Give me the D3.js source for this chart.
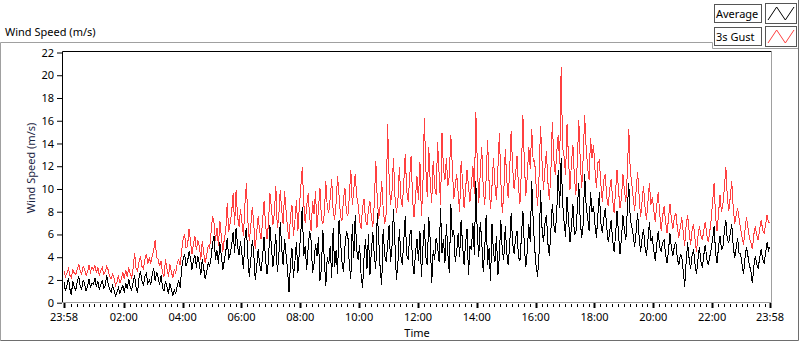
<!DOCTYPE html>
<html lang="en">
<head>
<meta charset="UTF-8">
<title>Wind Speed</title>
<script src="https://d3js.org/d3.v7.min.js"></script>
<style>
    body { margin: 0; background: #fff; }
    svg { display: block; font-family: "Noto Sans", "Liberation Sans", Arial, sans-serif; }
</style>
</head>
<body>
<svg id="chart"></svg>
<script>
// samples every 3 minutes starting 23:58
const startTime = new Date(2020, 0, 1, 23, 58);
const endTime = new Date(2020, 0, 2, 23, 58);
const stepMinutes = 3;

const average = [
    1.8,1.0,1.5,2.2,1.2,0.7,1.9,1.4,1.1,1.8,2.3,1.5,1.2,2.0,1.7,1.0,1.4,2.1,1.3,1.7,
    1.6,2.2,1.4,1.9,1.1,1.6,2.0,1.3,1.5,2.4,1.7,1.2,0.9,1.5,1.1,0.6,0.9,1.3,0.8,1.2,
    1.5,0.9,1.7,1.2,2.1,1.4,1.1,1.8,2.4,1.3,0.9,2.2,2.8,1.9,1.5,2.3,2.6,1.7,2.0,1.6,
    2.5,3.0,1.9,2.7,2.2,1.6,2.4,1.3,1.0,1.9,1.4,0.8,1.7,1.2,0.6,1.1,0.8,1.5,1.9,1.3,
    3.0,3.8,4.3,3.2,3.6,4.5,3.9,2.9,3.7,4.2,3.1,4.1,3.4,2.4,3.8,3.0,2.1,2.7,3.5,3.2,
    4.0,5.2,5.9,3.8,4.6,3.4,5.3,4.1,2.9,3.7,4.5,5.7,3.8,4.3,5.1,6.2,4.4,6.6,5.0,4.2,
    5.4,4.2,3.0,5.6,6.6,4.0,2.3,3.8,5.5,4.4,2.0,3.1,4.7,3.4,2.8,4.0,5.8,3.9,2.5,3.6,
    6.8,5.0,3.1,4.4,6.0,2.7,3.9,7.1,4.8,3.3,5.6,4.2,2.9,0.9,3.5,4.8,2.2,3.6,5.3,2.6,
    4.4,6.2,8.4,4.1,5.0,2.9,4.8,6.3,5.5,2.6,3.4,5.2,4.1,5.8,1.9,3.0,6.4,3.7,1.5,4.0,
    3.4,5.0,2.2,6.6,3.1,4.6,2.5,7.3,5.4,3.6,2.7,4.9,6.2,5.9,3.3,2.1,6.9,3.9,7.7,4.6,
    3.8,5.1,2.4,1.3,4.0,5.6,3.0,6.0,2.4,4.6,6.2,4.1,3.0,7.9,5.5,2.9,1.6,6.5,4.2,3.6,
    5.0,6.8,3.6,4.9,8.2,5.2,2.0,3.4,6.5,4.1,3.3,5.4,7.6,4.2,3.8,5.9,6.4,3.5,2.5,4.4,
    5.6,3.7,6.3,2.3,4.8,6.9,4.0,3.3,7.5,5.5,1.7,4.6,3.8,5.7,4.9,3.6,8.3,4.4,5.6,3.5,
    6.9,4.3,2.6,8.7,5.8,6.4,3.6,4.5,6.1,4.0,7.3,5.0,3.3,5.2,6.5,2.4,5.0,4.6,7.0,4.2,
    10.7,6.0,4.0,7.1,5.5,2.7,4.6,7.7,3.3,4.8,1.9,6.9,4.4,3.6,5.9,2.4,4.1,7.3,4.5,3.8,
    6.7,4.4,3.3,5.0,7.9,5.2,4.3,5.6,6.3,4.0,3.7,5.8,8.1,4.9,3.1,4.6,6.9,5.3,10.7,7.2,
    4.8,3.2,2.3,4.4,9.9,6.6,5.3,7.0,7.7,5.2,4.1,6.3,8.7,6.9,6.1,7.8,11.7,8.3,12.7,8.8,
    7.1,5.8,9.3,7.4,5.3,6.6,8.7,6.0,6.1,8.2,10.5,7.2,5.7,6.9,11.3,8.5,7.5,6.3,9.7,8.0,
    8.5,6.9,5.7,7.8,9.7,7.0,6.1,7.4,8.3,6.6,5.3,6.2,7.3,5.5,4.5,5.9,8.1,6.0,4.3,5.6,
    7.7,6.4,5.5,8.2,10.5,7.3,6.7,5.9,4.9,6.3,7.9,5.8,4.5,5.6,6.5,4.9,4.1,5.5,7.1,5.4,
    5.7,4.6,3.7,5.1,6.3,4.9,4.5,5.3,5.5,4.2,3.5,4.6,6.1,4.8,4.1,5.0,5.3,3.9,3.3,4.2,
    4.1,2.8,1.4,3.6,5.3,3.9,3.0,4.1,4.7,3.4,2.5,3.8,4.9,3.6,3.1,4.2,5.1,3.9,3.3,4.0,
    4.7,5.6,6.7,4.4,3.5,4.9,5.9,4.7,4.9,6.3,7.3,5.5,5.3,6.1,6.9,5.0,3.9,4.8,5.7,4.3,
    4.3,3.4,2.5,3.9,4.9,4.1,3.3,2.8,1.7,3.2,4.1,3.4,3.0,4.0,4.7,3.8,3.5,4.4,5.3,4.6,4.9
];

const gust = [
    2.8,2.3,2.6,3.0,2.4,2.2,2.9,2.6,2.5,2.9,3.4,2.8,2.5,3.2,3.0,2.4,2.7,3.3,2.7,3.1,
    2.9,3.3,2.6,3.1,2.4,2.8,3.1,2.5,2.7,3.2,2.9,2.3,2.1,2.5,2.2,1.5,1.8,2.4,1.7,2.1,
    2.7,2.1,2.9,2.3,3.1,2.5,2.2,3.0,4.4,3.0,2.8,3.6,4.1,3.2,3.0,3.8,4.3,3.4,3.9,3.5,
    4.1,4.6,5.5,4.0,3.8,3.2,3.7,2.6,2.3,3.8,3.0,2.3,3.4,2.7,2.2,2.9,2.6,3.5,3.8,3.3,
    4.6,5.6,6.0,4.8,5.0,6.5,5.4,4.3,5.1,5.9,4.6,5.5,5.0,3.8,5.4,4.4,3.5,4.2,5.0,4.8,
    6.2,7.6,7.0,5.4,6.6,5.0,7.2,5.8,4.5,5.6,6.4,8.8,6.2,7.0,8.0,9.6,6.8,9.9,7.6,6.7,
    8.2,7.0,5.9,8.6,10.5,7.2,5.4,6.8,8.4,7.0,4.7,6.2,7.6,6.3,5.6,7.2,8.9,7.0,5.6,6.9,
    9.6,8.4,6.8,7.8,10.3,6.6,7.5,9.9,8.2,6.9,9.8,8.0,6.5,5.6,7.6,8.6,5.9,7.2,9.0,6.3,
    8.4,10.2,11.9,8.8,7.0,8.5,9.6,7.6,6.3,8.9,7.8,9.8,6.6,8.2,10.1,7.4,6.9,7.8,10.7,8.4,
    7.9,9.2,10.9,8.0,7.3,8.8,11.1,9.4,7.6,7.2,9.1,10.1,7.9,7.6,9.3,11.7,8.6,9.9,11.3,9.4,
    8.6,7.2,6.5,8.4,9.1,7.3,6.8,8.2,8.9,7.5,6.7,8.8,12.5,9.0,7.4,8.6,10.7,8.3,6.9,7.8,
    15.7,11.2,8.6,9.8,12.7,9.4,7.9,8.9,11.9,9.2,8.4,10.5,13.1,9.8,8.9,11.0,12.9,9.1,7.5,9.3,
    11.1,9.0,12.4,7.6,10.2,16.2,11.8,9.3,13.7,10.6,8.8,12.5,10.2,9.5,14.1,11.4,8.6,14.9,11.8,10.8,
    12.7,10.3,11.2,14.7,12.0,9.1,10.3,11.3,9.6,8.0,12.5,10.6,8.3,9.9,11.7,10.2,8.9,10.4,12.0,9.6,
    16.8,12.3,8.8,11.4,13.7,10.2,8.6,10.9,14.3,10.6,8.2,10.3,12.7,10.4,9.0,11.8,14.9,10.7,7.9,9.6,
    13.5,10.9,9.2,11.6,15.1,12.0,10.0,11.2,12.9,10.2,8.7,11.7,16.5,12.3,9.4,11.1,13.7,11.8,15.3,12.4,
    12.5,10.3,8.5,11.2,15.5,12.4,9.9,11.8,13.3,10.6,9.0,11.4,15.9,12.7,11.2,13.2,14.7,12.2,20.7,13.6,
    12.9,11.2,15.7,12.8,9.9,12.3,13.9,11.1,9.5,12.4,16.1,12.5,10.1,12.8,16.5,13.6,11.9,10.8,14.5,12.7,
    13.9,11.7,10.1,12.3,12.5,10.4,8.9,10.8,11.3,9.3,8.5,10.0,10.9,9.1,7.9,9.8,11.7,9.9,8.3,9.2,
    11.3,9.9,8.9,11.4,15.3,11.6,10.5,9.2,8.1,9.9,11.5,9.4,7.5,8.9,10.3,8.4,7.3,8.8,10.5,8.6,
    9.3,8.1,7.1,8.6,9.7,7.9,6.3,7.6,8.5,7.1,6.1,7.4,8.7,7.3,6.5,7.5,7.9,6.6,5.7,6.6,
    7.5,6.2,5.0,6.8,7.7,6.3,5.1,6.3,6.9,5.6,4.5,5.8,6.7,5.9,5.5,6.4,7.1,6.0,5.3,6.2,
    7.3,8.9,10.5,7.6,6.3,7.8,9.5,8.0,8.7,10.1,11.9,9.2,8.1,9.3,10.7,8.4,6.9,7.7,8.3,7.4,
    6.5,5.8,5.1,6.4,7.5,6.6,5.7,5.3,4.7,6.0,6.7,5.9,5.5,6.5,7.3,6.4,6.1,6.9,7.7,7.1,7.0
];

const yTicks = [0, 2, 4, 6, 8, 10, 12, 14, 16, 18, 20, 22];
const xTickLabels = ["23:58", "02:00", "04:00", "06:00", "08:00", "10:00", "12:00",
                     "14:00", "16:00", "18:00", "20:00", "22:00", "23:58"];
const legendItems = [
    { name: "Average", color: "#000000", data: average },
    { name: "3s Gust", color: "#ff4040", data: gust }
];

const width = 800, height = 342;
const plot = { left: 62.5, right: 771.5, top: 51.5, bottom: 302.5 };

const svg = d3.select("#chart").attr("width", width).attr("height", height);

const x = d3.scaleTime().domain([startTime, endTime]).range([64, 770]);
const y = d3.scaleLinear().domain([0, 22]).range([302.7, 52.5]);

// outer frame
svg.append("path")
    .attr("d", "M0.5,340.5 V42.5 H712.5")
    .attr("fill", "none").attr("stroke", "#a0a0a0");
svg.append("path")
    .attr("d", "M712.5,42.5 V48.5 H798.5")
    .attr("fill", "none").attr("stroke", "#a0a0a0");
svg.append("path")
    .attr("d", "M798.5,0 V340.5 H0.5")
    .attr("fill", "none").attr("stroke", "#6e6e6e");

// chart title
svg.append("text")
    .attr("x", 5).attr("y", 36)
    .attr("font-size", 11).attr("fill", "#000")
    .text("Wind Speed (m/s)");

// plot area frame
svg.append("rect")
    .attr("x", plot.left).attr("y", plot.top)
    .attr("width", plot.right - plot.left).attr("height", plot.bottom - plot.top)
    .attr("fill", "#fff").attr("stroke", "none");
svg.append("path")
    .attr("d", `M${plot.left},${plot.bottom} V${plot.top} H${plot.right}`)
    .attr("fill", "none").attr("stroke", "#000");
svg.append("path")
    .attr("d", `M${plot.right},${plot.top} V${plot.bottom} H${plot.left}`)
    .attr("fill", "none").attr("stroke", "#a0a0a0");

// y axis
const yAxis = svg.append("g")
    .attr("transform", `translate(${plot.left - 0.5},0)`)
    .call(d3.axisLeft(y).tickValues(yTicks).tickSize(5).tickPadding(3).tickFormat(d3.format("d")));
yAxis.select(".domain").remove();
yAxis.selectAll("line").attr("stroke", "#000");
yAxis.selectAll("text").attr("font-size", 11).attr("fill", "#000")
    .attr("font-family", "Noto Sans, sans-serif");

svg.append("text")
    .attr("transform", "translate(35,168) rotate(-90)")
    .attr("text-anchor", "middle")
    .attr("font-size", 11).attr("fill", "#1b2442")
    .text("Wind Speed (m/s)");

// x axis: major ticks every 2 h plus both ends, minor ticks every 12 min
const majorTicks = [startTime].concat(
    d3.timeHour.every(2).range(d3.timeMinute.offset(startTime, 10), endTime), [endTime]);
const minorTicks = d3.timeMinute.every(12).range(startTime, endTime)
    .filter(t => majorTicks.every(m => Math.abs(x(t) - x(m)) > 3));

const xAxis = svg.append("g").attr("transform", `translate(0,${plot.bottom + 0.5})`);
xAxis.selectAll(".minor").data(minorTicks).join("line")
    .attr("class", "minor")
    .attr("x1", d => Math.round(x(d)) + 0.5).attr("x2", d => Math.round(x(d)) + 0.5)
    .attr("y1", 1).attr("y2", 4)
    .attr("stroke", "#000");
xAxis.selectAll(".major").data(majorTicks).join("line")
    .attr("class", "major")
    .attr("x1", d => Math.round(x(d)) + 0.5).attr("x2", d => Math.round(x(d)) + 0.5)
    .attr("y1", 0).attr("y2", 5)
    .attr("stroke", "#000").attr("stroke-width", 2);
xAxis.selectAll(".lbl").data(majorTicks).join("text")
    .attr("class", "lbl")
    .attr("x", d => x(d)).attr("y", 18)
    .attr("text-anchor", "middle")
    .attr("font-size", 11).attr("fill", "#000")
    .text((d, i) => xTickLabels[i]);

svg.append("text")
    .attr("x", 417).attr("y", 337)
    .attr("text-anchor", "middle")
    .attr("font-size", 11).attr("fill", "#000")
    .text("Time");

// series
svg.append("clipPath").attr("id", "clip")
    .append("rect")
    .attr("x", plot.left + 0.5).attr("y", plot.top + 0.5)
    .attr("width", plot.right - plot.left - 1).attr("height", plot.bottom - plot.top - 1);

const line = d3.line()
    .x((d, i) => x(d3.timeMinute.offset(startTime, i * stepMinutes)))
    .y(d => y(d));

const series = svg.append("g").attr("clip-path", "url(#clip)");
[legendItems[1], legendItems[0]].forEach(s => {
    series.append("path")
        .datum(s.data)
        .attr("fill", "none")
        .attr("stroke", s.color)
        .attr("stroke-width", 1)
        .attr("shape-rendering", "crispEdges")
        .attr("d", line);
});

// legend
const legend = svg.append("g");
legendItems.forEach((s, i) => {
    const top = 4 + i * 23;
    legend.append("rect")
        .attr("x", 714.5).attr("y", top + 0.5).attr("width", 47).attr("height", 18)
        .attr("fill", "#fff").attr("stroke", "#555");
    legend.append("text")
        .attr("x", 716).attr("y", top + 14)
        .attr("font-size", 11).attr("fill", "#000")
        .text(s.name);
    legend.append("rect")
        .attr("x", 765.5).attr("y", top - 0.5).attr("width", 31).attr("height", 20)
        .attr("fill", "#fff").attr("stroke", "#555");
    const ix = d3.scaleLinear().domain([0, 3]).range([768, 794]);
    const iy = d3.scaleLinear().domain([0, 1]).range([top + 16, top + 3]);
    legend.append("path")
        .datum([0, 1, 0, 1])
        .attr("fill", "none").attr("stroke", s.color)
        .attr("d", d3.line().x((d, j) => ix(j)).y(d => iy(d)));
});
</script>
</body>
</html>
